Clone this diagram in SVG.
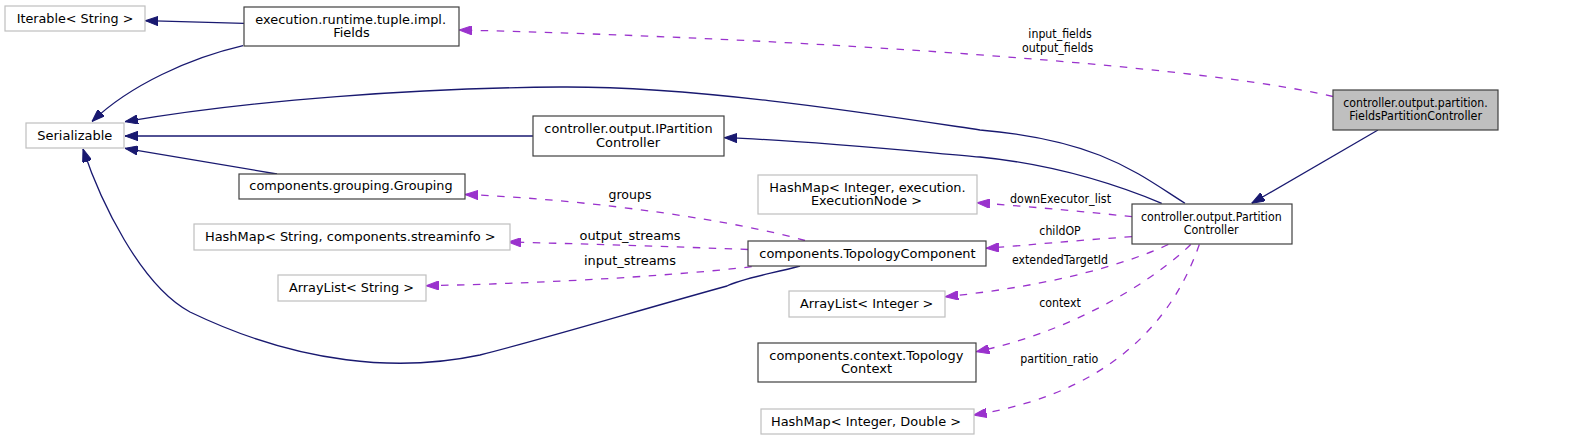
<svg xmlns="http://www.w3.org/2000/svg" width="1591" height="440" viewBox="0 0 1591 440">
<style>
text{font-family:"DejaVu Sans","Liberation Sans",sans-serif;font-size:12.5px;fill:#000;text-anchor:middle}
.doc{fill:#fff;stroke:#404040;stroke-width:1.2}
.ext{fill:#fff;stroke:#bfbfbf;stroke-width:1.2}
.cur{fill:#bfbfbf;stroke:#404040;stroke-width:1.2}
.inh{fill:none;stroke:#191970;stroke-width:1.3;marker-end:url(#ah)}
.use{fill:none;stroke:#9a32cd;stroke-width:1.3;stroke-dasharray:7.5,8.5;marker-end:url(#au)}
</style>
<defs>
<marker id="ah" markerUnits="userSpaceOnUse" viewBox="0 0 13 9.4" markerWidth="13" markerHeight="9.4" refX="13" refY="4.7" orient="auto"><path d="M0,0 L13,4.7 L0,9.4 z" fill="#191970" stroke="#191970"/></marker>
<marker id="au" markerUnits="userSpaceOnUse" viewBox="0 0 13 9.4" markerWidth="13" markerHeight="9.4" refX="13" refY="4.7" orient="auto"><path d="M0,0 L13,4.7 L0,9.4 z" fill="#9a32cd" stroke="#9a32cd"/></marker>
</defs>
<rect width="1591" height="440" fill="#fff"/>
<g id="edges">
<path class="inh" d="M244,23.3 L145.3,20.7"/>
<path class="inh" d="M243,45.7 C190,58 130,85 92,121.5"/>
<path class="inh" d="M1185,203.3 C1140,175 1100,140 980,130 C880,115 700,86 560,87 C420,88 250,100 125,121.7"/>
<path class="inh" d="M1161.7,203.3 C1125,188 1060,165 980,157 C900,150 800,140 724.3,137.7"/>
<path class="inh" d="M533,136 L125,136"/>
<path class="inh" d="M277,174 L125,148.3"/>
<path class="inh" d="M800,266 C770,274 740,279 727,286 C640,310 540,340 480,355 C400,372 300,365 190,312 C140,285 100,200 83,149"/>
<path class="inh" d="M1378,130 L1251.7,203.3"/>
<path class="use" d="M1333,96.5 C1200,65 800,38 459.3,30"/>
<path class="use" d="M805,240.5 C740,222 600,200 465.3,194.5"/>
<path class="use" d="M748,249.5 Q630,245 508.3,242"/>
<path class="use" d="M751.7,266.7 C680,275 560,283 426.3,285.7"/>
<path class="use" d="M1132,216.7 C1080,211 1020,206 977,202.7"/>
<path class="use" d="M1132,236.7 C1080,240 1030,245 986,248.3"/>
<path class="use" d="M1168.3,244.5 C1130,262 1060,285 945.3,296.7"/>
<path class="use" d="M1190.7,244.5 C1160,275 1080,330 976.3,351.7"/>
<path class="use" d="M1199.3,244.5 C1180,300 1130,390 973.7,415"/>
<text x="1060" y="37.5" textLength="63.3" lengthAdjust="spacingAndGlyphs">input_fields</text>
<text x="1057.7" y="51.5" textLength="71.3" lengthAdjust="spacingAndGlyphs">output_fields</text>
<text x="630" y="198.5" textLength="43" lengthAdjust="spacingAndGlyphs">groups</text>
<text x="630" y="240" textLength="101" lengthAdjust="spacingAndGlyphs">output_streams</text>
<text x="630" y="265" textLength="92" lengthAdjust="spacingAndGlyphs">input_streams</text>
<text x="1060.5" y="203.3" textLength="101" lengthAdjust="spacingAndGlyphs">downExecutor_list</text>
<text x="1060" y="235.3" textLength="41.3" lengthAdjust="spacingAndGlyphs">childOP</text>
<text x="1060" y="264" textLength="96" lengthAdjust="spacingAndGlyphs">extendedTargetId</text>
<text x="1060" y="307.3" textLength="41.7" lengthAdjust="spacingAndGlyphs">context</text>
<text x="1059.3" y="363" textLength="78" lengthAdjust="spacingAndGlyphs">partition_ratio</text>
</g>
<g id="node-iterable">
<rect class="ext" x="5" y="6" width="140" height="25"/>
<text x="75" y="22.5" textLength="116.7" lengthAdjust="spacingAndGlyphs">Iterable&lt; String &gt;</text>
</g>
<g id="node-fields">
<rect class="doc" x="244" y="7" width="215" height="39"/>
<text x="350.7" y="23.5" textLength="190.7" lengthAdjust="spacingAndGlyphs">execution.runtime.tuple.impl.</text>
<text x="351.5" y="37" textLength="36.7" lengthAdjust="spacingAndGlyphs">Fields</text>
</g>
<g id="node-serializable">
<rect class="ext" x="26" y="123" width="98" height="25"/>
<text x="74.8" y="139.5" textLength="75" lengthAdjust="spacingAndGlyphs">Serializable</text>
</g>
<g id="node-ipartitioncontroller">
<rect class="doc" x="533" y="116" width="191" height="40"/>
<text x="628.5" y="132.5" textLength="168.3" lengthAdjust="spacingAndGlyphs">controller.output.IPartition</text>
<text x="628" y="146.5" textLength="64" lengthAdjust="spacingAndGlyphs">Controller</text>
</g>
<g id="node-grouping">
<rect class="doc" x="239" y="174" width="226" height="25"/>
<text x="351" y="190" textLength="203.3" lengthAdjust="spacingAndGlyphs">components.grouping.Grouping</text>
</g>
<g id="node-hashmap-string">
<rect class="ext" x="194" y="224" width="316" height="26"/>
<text x="350.3" y="240.5" textLength="290.7" lengthAdjust="spacingAndGlyphs">HashMap&lt; String, components.streaminfo &gt;</text>
</g>
<g id="node-arraylist-string">
<rect class="ext" x="278" y="275" width="148" height="26"/>
<text x="351.5" y="291.5" textLength="125" lengthAdjust="spacingAndGlyphs">ArrayList&lt; String &gt;</text>
</g>
<g id="node-hashmap-exec">
<rect class="ext" x="758" y="175" width="219" height="39"/>
<text x="867.5" y="191.5" textLength="196.3" lengthAdjust="spacingAndGlyphs">HashMap&lt; Integer, execution.</text>
<text x="866.5" y="205" textLength="111" lengthAdjust="spacingAndGlyphs">ExecutionNode &gt;</text>
</g>
<g id="node-topologycomponent">
<rect class="doc" x="748" y="241" width="238" height="25"/>
<text x="867.5" y="257.5" textLength="216.3" lengthAdjust="spacingAndGlyphs">components.TopologyComponent</text>
</g>
<g id="node-arraylist-integer">
<rect class="ext" x="789" y="291" width="156" height="26"/>
<text x="866.7" y="307.5" textLength="133.3" lengthAdjust="spacingAndGlyphs">ArrayList&lt; Integer &gt;</text>
</g>
<g id="node-topologycontext">
<rect class="doc" x="758" y="343" width="218" height="39"/>
<text x="866.3" y="359.5" textLength="194" lengthAdjust="spacingAndGlyphs">components.context.Topology</text>
<text x="866.5" y="373" textLength="51" lengthAdjust="spacingAndGlyphs">Context</text>
</g>
<g id="node-hashmap-double">
<rect class="ext" x="761" y="409" width="213" height="25"/>
<text x="866" y="425.5" textLength="190" lengthAdjust="spacingAndGlyphs">HashMap&lt; Integer, Double &gt;</text>
</g>
<g id="node-partitioncontroller">
<rect class="doc" x="1132" y="204" width="160" height="40"/>
<text x="1211.3" y="220.5" textLength="140.7" lengthAdjust="spacingAndGlyphs">controller.output.Partition</text>
<text x="1211.2" y="234" textLength="55" lengthAdjust="spacingAndGlyphs">Controller</text>
</g>
<g id="node-fieldspartitioncontroller">
<rect class="cur" x="1333" y="90" width="165" height="40"/>
<text x="1415.5" y="106.5" textLength="144.3" lengthAdjust="spacingAndGlyphs">controller.output.partition.</text>
<text x="1415.7" y="120" textLength="132.7" lengthAdjust="spacingAndGlyphs">FieldsPartitionController</text>
</g>
</svg>
